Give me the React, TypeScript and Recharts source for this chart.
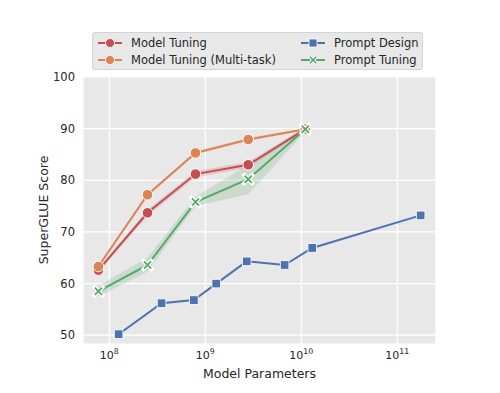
import React from 'react';
import { ComposedChart, Line, Area, XAxis, YAxis, CartesianGrid } from 'recharts';

// T5 sizes (model tuning / prompt tuning) and GPT-3 sizes (prompt design)
const t5Params = [7.7e7, 2.5e8, 7.9e8, 2.8e9, 1.1e10];
const gpt3Params = [1.25e8, 3.5e8, 7.6e8, 1.3e9, 2.7e9, 6.7e9, 1.3e10, 1.75e11];

const modelTuning = [62.6, 73.7, 81.2, 83.0, 89.9];
const modelTuningLow = [62.2, 73.1, 80.6, 82.4, 89.6];
const modelTuningHigh = [63.0, 74.3, 81.8, 83.6, 90.2];

const multiTask = [63.3, 77.2, 85.3, 87.9, 89.9];
const multiTaskLow = [63.0, 76.9, 85.0, 87.6, 89.7];
const multiTaskHigh = [63.6, 77.5, 85.6, 88.2, 90.1];

const promptDesign = [50.2, 56.2, 56.8, 60.0, 64.3, 63.6, 66.9, 73.2];

const promptTuning = [58.5, 63.6, 75.8, 80.2, 89.9];
const promptTuningLow = [57.5, 62.3, 75.0, 77.3, 89.4];
const promptTuningHigh = [59.6, 65.0, 76.8, 83.0, 90.3];

const xTicks = [1e8, 1e9, 1e10, 1e11];
const yTicks = [50, 60, 70, 80, 90, 100];

const RED = '#C44E52';
const ORANGE = '#DD8452';
const BLUE = '#4C72B0';
const GREEN = '#55A868';
const TEXT = '#262626';
const FONT = 'DejaVu Sans, sans-serif';

const rows = (xs: number[], ys: number[], lo?: number[], hi?: number[]) =>
  xs.map((x, i) => ({ x, y: ys[i], band: lo && hi ? [lo[i], hi[i]] : undefined }));

const mtData = rows(t5Params, modelTuning, modelTuningLow, modelTuningHigh);
const mmData = rows(t5Params, multiTask, multiTaskLow, multiTaskHigh);
const pdData = rows(gpt3Params, promptDesign);
const ptData = rows(t5Params, promptTuning, promptTuningLow, promptTuningHigh);

const circleDot = (color: string) => (p: any) => (
  <circle key={`c-${p.index}`} cx={p.cx} cy={p.cy} r={5.3} fill={color} stroke="#fff" strokeWidth={1} />
);

const squareDot = (color: string) => (p: any) => (
  <rect key={`s-${p.index}`} x={p.cx - 4.3} y={p.cy - 4.3} width={8.6} height={8.6} fill={color} stroke="#fff" strokeWidth={0.8} />
);

const crossPath = (cx: number, cy: number, s: number) =>
  `M${cx - s},${cy - s}L${cx + s},${cy + s}M${cx - s},${cy + s}L${cx + s},${cy - s}`;

const crossDot = (color: string) => (p: any) => (
  <g key={`x-${p.index}`}>
    <path d={crossPath(p.cx, p.cy, 4)} stroke="#fff" strokeWidth={4} strokeLinecap="square" />
    <path d={crossPath(p.cx, p.cy, 3.6)} stroke={color} strokeWidth={1.8} />
  </g>
);

const PowerTick = ({ x, y, payload }: any) => {
  const exp = Math.round(Math.log10(payload.value));
  return (
    <text x={x} y={y + 7} textAnchor="middle" fill={TEXT} fontSize={11} fontFamily={FONT}>
      10<tspan dy={-5} fontSize={7.8}>{exp}</tspan>
    </text>
  );
};

const LegendItem = ({ color, label, marker }: { color: string; label: string; marker: string }) => (
  <div style={{ display: 'flex', alignItems: 'center', height: 16.5 }}>
    <svg width={26} height={12} style={{ marginRight: 8 }}>
      <line x1={1} y1={6} x2={25} y2={6} stroke={color} strokeWidth={2} />
      {marker === 'circle' && <circle cx={13} cy={6} r={4.5} fill={color} stroke="#fff" strokeWidth={0.8} />}
      {marker === 'square' && <rect x={9} y={2} width={8} height={8} fill={color} stroke="#fff" strokeWidth={0.8} />}
      {marker === 'cross' && (
        <g>
          <path d={crossPath(13, 6, 3.5)} stroke="#fff" strokeWidth={3.5} />
          <path d={crossPath(13, 6, 3.2)} stroke={color} strokeWidth={1.6} />
        </g>
      )}
    </svg>
    <span>{label}</span>
  </div>
);

export default function App() {
  return (
    <div style={{ position: 'absolute', left: 0, top: 0, width: 500, height: 393, background: '#fff', fontFamily: FONT }}>
      <ComposedChart width={500} height={393} margin={{ top: 77, right: 64, bottom: 0, left: 0 }}>
        <CartesianGrid stroke="#fff" strokeWidth={1.2} fill="#e8e8e8" fillOpacity={1} />
        <XAxis
          dataKey="x"
          type="number"
          scale="log"
          domain={[5.32e7, 2.53e11]}
          ticks={xTicks}
          interval={0}
          allowDataOverflow
          axisLine={false}
          tickLine={false}
          height={49}
          tick={<PowerTick />}
          label={{ value: 'Model Parameters', position: 'insideBottom', offset: 15, fill: TEXT, fontSize: 12.5, fontFamily: FONT }}
        />
        <YAxis
          type="number"
          domain={[48.3, 100]}
          ticks={yTicks}
          interval={0}
          allowDataOverflow
          axisLine={false}
          tickLine={false}
          width={83}
          tick={{ fill: TEXT, fontSize: 11.5, fontFamily: FONT }}
          label={{
            content: () => (
              <text x={48} y={210} transform="rotate(-90 48 210)" textAnchor="middle" fill={TEXT} fontSize={12.5} fontFamily={FONT}>
                SuperGLUE Score
              </text>
            ),
          }}
        />
        <Area data={mtData} dataKey="band" type="linear" stroke="none" fill={RED} fillOpacity={0.2} isAnimationActive={false} />
        <Area data={mmData} dataKey="band" type="linear" stroke="none" fill={ORANGE} fillOpacity={0.2} isAnimationActive={false} />
        <Area data={ptData} dataKey="band" type="linear" stroke="none" fill={GREEN} fillOpacity={0.2} isAnimationActive={false} />
        <Line data={mtData} dataKey="y" type="linear" stroke={RED} strokeWidth={2} dot={circleDot(RED)} activeDot={false} isAnimationActive={false} />
        <Line data={mmData} dataKey="y" type="linear" stroke={ORANGE} strokeWidth={2} dot={circleDot(ORANGE)} activeDot={false} isAnimationActive={false} />
        <Line data={pdData} dataKey="y" type="linear" stroke={BLUE} strokeWidth={2} dot={squareDot(BLUE)} activeDot={false} isAnimationActive={false} />
        <Line data={ptData} dataKey="y" type="linear" stroke={GREEN} strokeWidth={2} dot={crossDot(GREEN)} activeDot={false} isAnimationActive={false} />
      </ComposedChart>
      <div
        style={{
          position: 'absolute',
          left: 92,
          top: 32,
          width: 331,
          height: 38,
          boxSizing: 'border-box',
          background: '#e8e8e8',
          border: '1px solid #d4d4d4',
          borderRadius: 3,
          display: 'flex',
          padding: '2px 0 0 4px',
          fontSize: 11.5,
          color: TEXT,
        }}
      >
        <div style={{ width: 203 }}>
          <LegendItem color={RED} label="Model Tuning" marker="circle" />
          <LegendItem color={ORANGE} label="Model Tuning (Multi-task)" marker="circle" />
        </div>
        <div>
          <LegendItem color={BLUE} label="Prompt Design" marker="square" />
          <LegendItem color={GREEN} label="Prompt Tuning" marker="cross" />
        </div>
      </div>
    </div>
  );
}
